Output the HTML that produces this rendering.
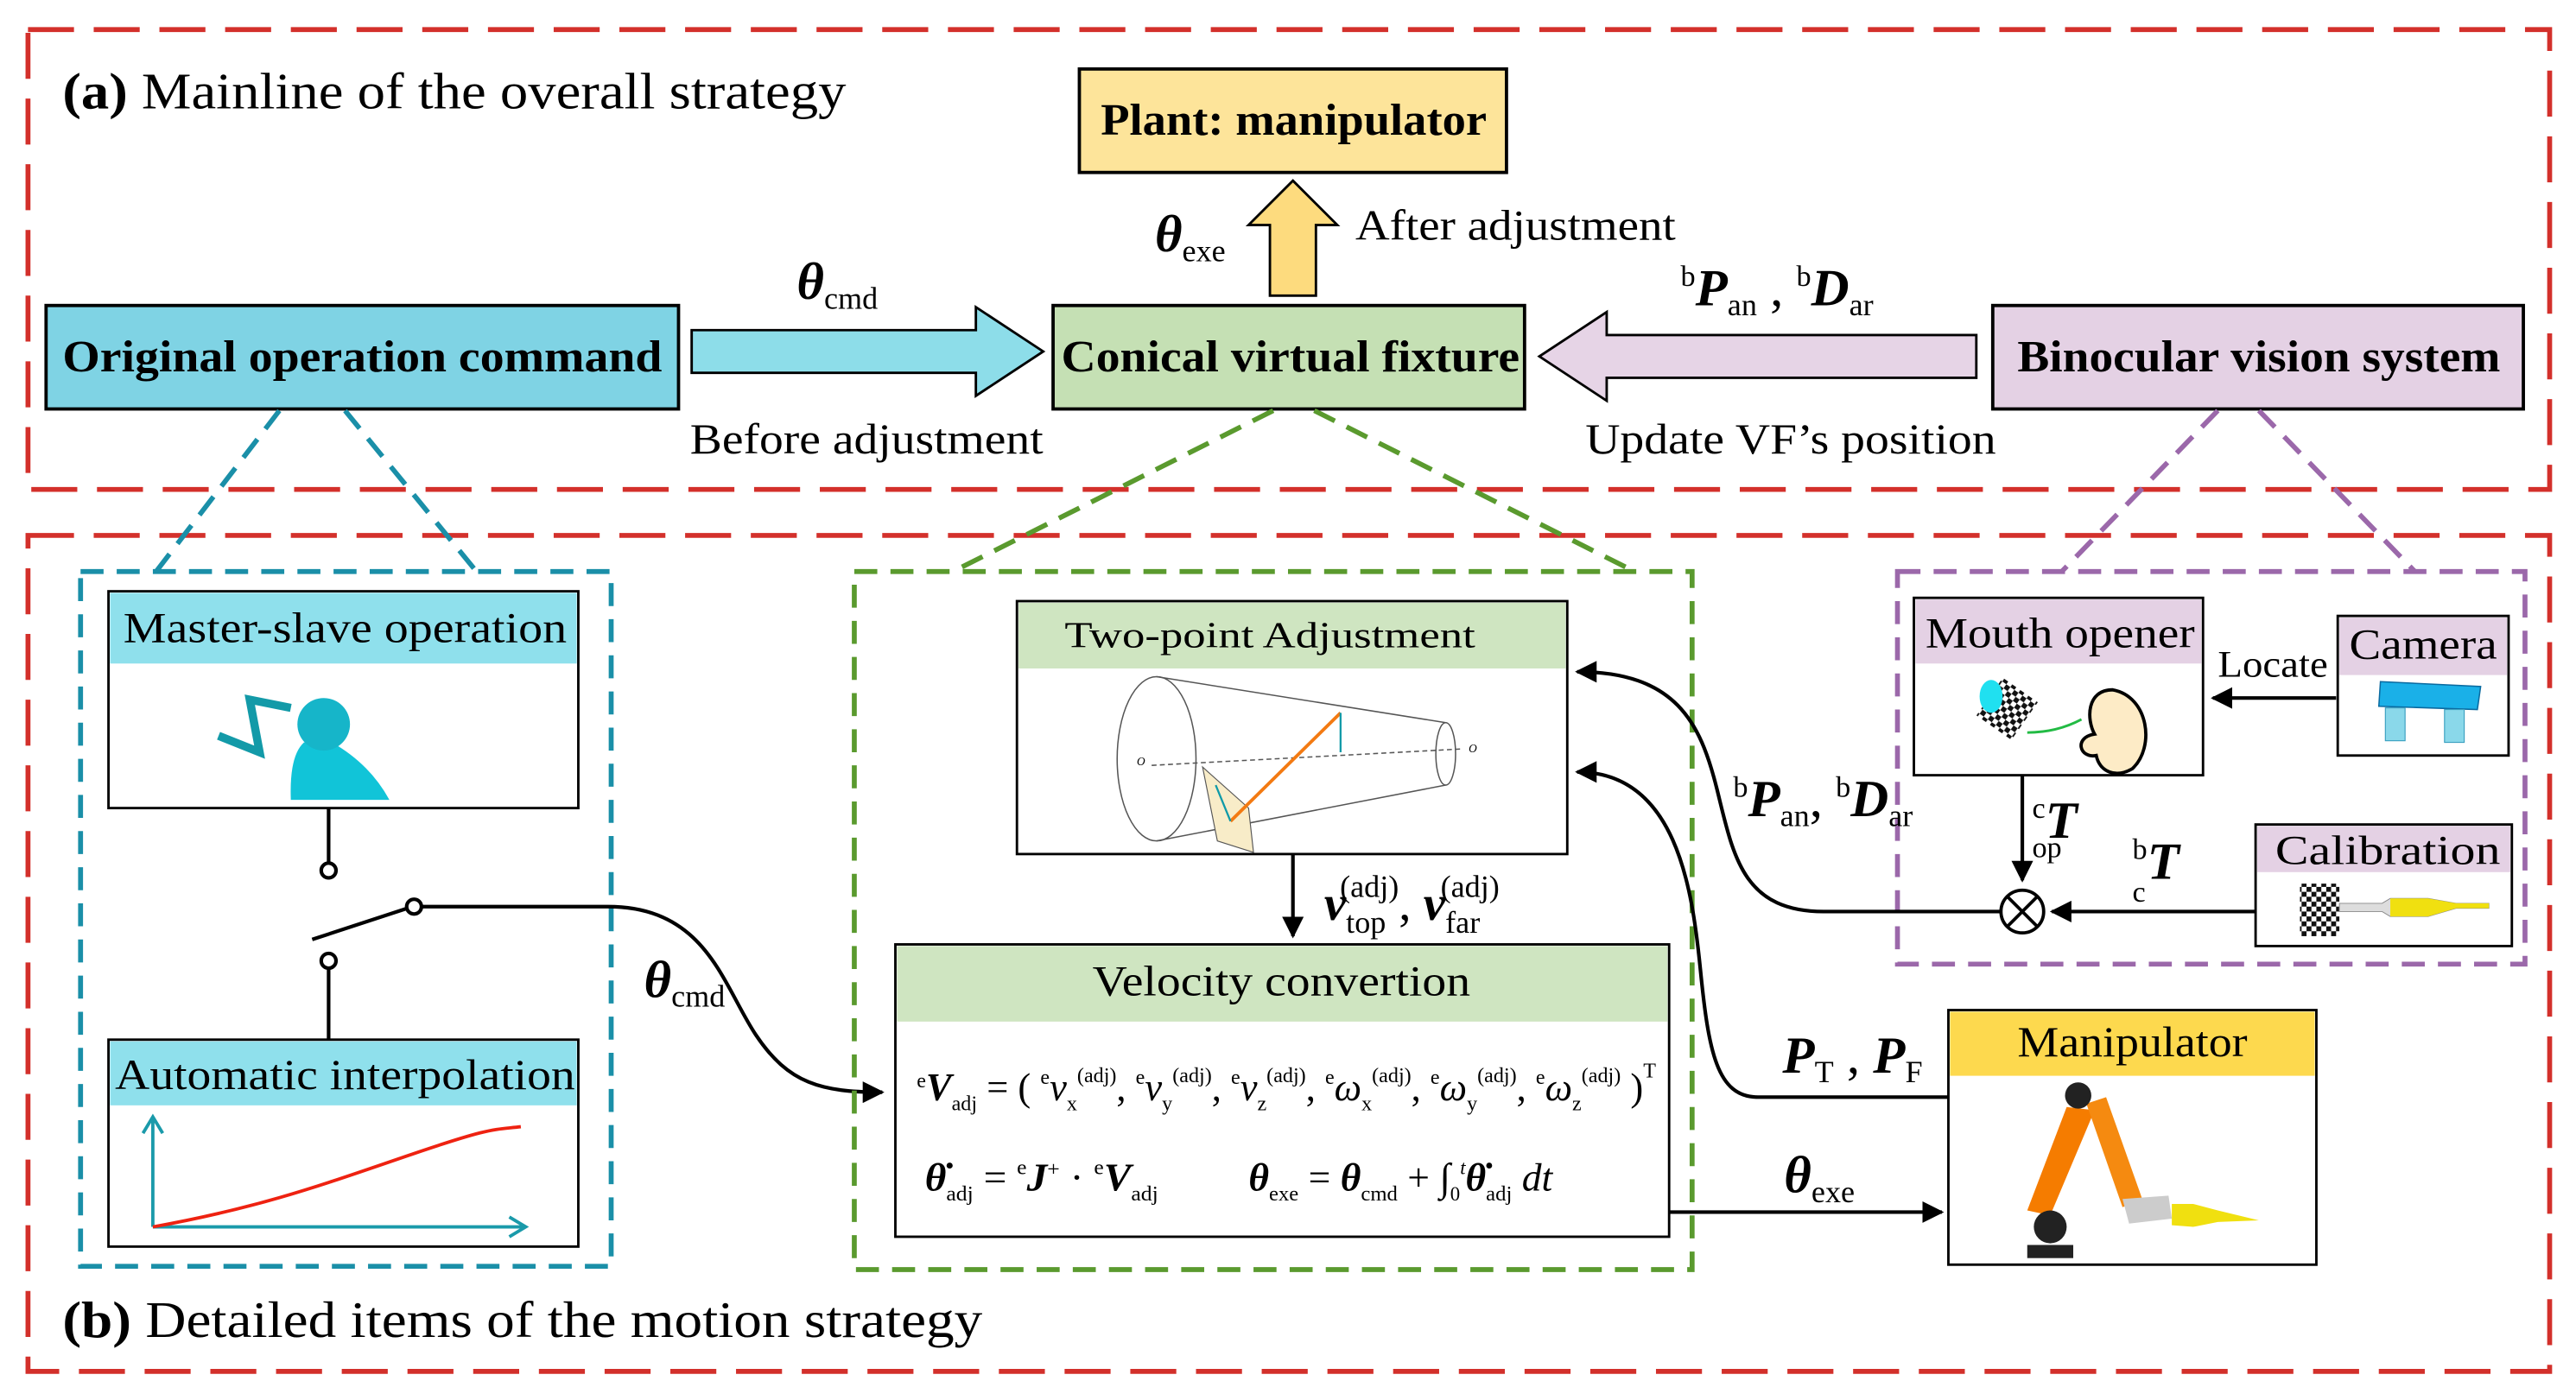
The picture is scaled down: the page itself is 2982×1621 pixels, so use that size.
<!DOCTYPE html>
<html><head><meta charset="utf-8"><style>html,body{margin:0;padding:0;background:#fff}svg{display:block}svg text{font-family:"Liberation Serif","DejaVu Serif","Times New Roman",serif}</style></head>
<body>
<svg width="2982" height="1621" viewBox="0 0 1568 852.4" xmlns="http://www.w3.org/2000/svg" style="font-family:'Liberation Serif','DejaVu Serif',serif">
<defs>
<marker id="ah" viewBox="0 0 10 10" refX="9" refY="5" markerWidth="6" markerHeight="6" orient="auto" markerUnits="strokeWidth"><path d="M0,0L10,5L0,10z" fill="#000"/></marker>
<pattern id="chk" width="6" height="6" patternUnits="userSpaceOnUse"><rect width="6" height="6" fill="#fff"/><rect width="3" height="3" fill="#111"/><rect x="3" y="3" width="3" height="3" fill="#111"/></pattern>
</defs>
<rect width="1568" height="853" fill="#fff"/>
<g fill="none" stroke="#d3302b" stroke-width="3" stroke-dasharray="28,12">
<rect x="17" y="18" width="1535" height="280"/>
<rect x="17" y="326" width="1535" height="509"/>
</g>
<text x="38" y="66" font-size="31" textLength="477" lengthAdjust="spacingAndGlyphs"><tspan font-weight="bold">(a)</tspan> Mainline of the overall strategy</text>
<text x="38" y="814" font-size="31" textLength="560" lengthAdjust="spacingAndGlyphs"><tspan font-weight="bold">(b)</tspan> Detailed items of the motion strategy</text>

<rect x="657" y="42" width="260" height="63" fill="#fde49a" stroke="#000" stroke-width="2"/>
<text x="670" y="82" font-size="27" font-weight="bold" textLength="235" lengthAdjust="spacingAndGlyphs">Plant: manipulator</text>
<path d="M773,180V137H760L787,110L814,137H801V180Z" fill="#fddb7e" stroke="#000" stroke-width="1.5"/>
<rect x="28" y="186" width="385" height="63" fill="#7fd3e4" stroke="#000" stroke-width="2"/>
<text x="38" y="226" font-size="27" font-weight="bold" textLength="365" lengthAdjust="spacingAndGlyphs">Original operation command</text>
<path d="M421,201H594V187L635,214L594,241V227H421Z" fill="#8ddde9" stroke="#000" stroke-width="1.5"/>
<rect x="641" y="186" width="287" height="63" fill="#c5e0b4" stroke="#000" stroke-width="2"/>
<text x="646" y="226" font-size="27" font-weight="bold" textLength="279" lengthAdjust="spacingAndGlyphs">Conical virtual fixture</text>
<path d="M1203,204H978V190L937,217L978,244V230H1203Z" fill="#e6d4e6" stroke="#000" stroke-width="1.5"/>
<rect x="1213" y="186" width="323" height="63" fill="#e4d1e4" stroke="#000" stroke-width="2"/>
<text x="1228" y="226" font-size="27" font-weight="bold" textLength="294" lengthAdjust="spacingAndGlyphs">Binocular vision system</text>

<text x="485" y="182" font-size="32" font-weight="bold" font-style="italic">θ<tspan font-size="19" font-weight="normal" font-style="normal" dy="6">cmd</tspan></text>
<text x="420" y="276" font-size="26" textLength="215" lengthAdjust="spacingAndGlyphs">Before adjustment</text>
<text x="703" y="153" font-size="32" font-weight="bold" font-style="italic">θ<tspan font-size="19" font-weight="normal" font-style="normal" dy="6">exe</tspan></text>
<text x="825" y="146" font-size="26" textLength="195" lengthAdjust="spacingAndGlyphs">After adjustment</text>
<text x="1023" y="186" font-size="32" font-weight="bold" font-style="italic"><tspan font-size="18" font-weight="normal" font-style="normal" dy="-12">b</tspan><tspan dy="12">P</tspan><tspan font-size="19" font-weight="normal" font-style="normal" dy="6">an</tspan><tspan font-weight="normal" font-style="normal" dy="-6"> , </tspan><tspan font-size="18" font-weight="normal" font-style="normal" dy="-12">b</tspan><tspan dy="12">D</tspan><tspan font-size="19" font-weight="normal" font-style="normal" dy="6">ar</tspan></text>
<text x="965" y="276" font-size="26" textLength="250" lengthAdjust="spacingAndGlyphs">Update VF’s position</text>

<g fill="none" stroke="#1a8fa8" stroke-width="3" stroke-dasharray="14,8">
<path d="M170,250L95,348M210,250L290,348"/>
<rect x="49" y="348" width="323" height="423"/>
</g>
<rect x="66" y="360" width="286" height="132" fill="#fff" stroke="#000" stroke-width="1.5"/>
<rect x="67" y="361" width="284" height="43" fill="#8fe0ec"/>
<text x="75" y="391" font-size="26" textLength="270" lengthAdjust="spacingAndGlyphs">Master-slave operation</text>
<path d="M133,448L158,458L152,426L177,431" fill="none" stroke="#139aa8" stroke-width="5"/>
<path d="M177,487Q176,460 185,452L202,452Q225,465 237,487Z" fill="#11c4d8"/>
<circle cx="197" cy="441" r="16" fill="#16b5c9"/>
<rect x="66" y="633" width="286" height="126" fill="#fff" stroke="#000" stroke-width="1.5"/>
<rect x="67" y="634" width="284" height="39" fill="#8fe0ec"/>
<text x="70" y="663" font-size="26" textLength="280" lengthAdjust="spacingAndGlyphs">Automatic interpolation</text>
<path d="M93,747V680M87,690L93,680L99,690M93,747H320M310,741L320,747L310,753" fill="none" stroke="#1a9aaa" stroke-width="2"/>
<path d="M93,747C160,735 200,720 250,703S300,688 317,686" fill="none" stroke="#e21" stroke-width="2"/>
<g stroke="#000" stroke-width="2.2" fill="#fff">
<path d="M200,492V525M200,590V633M190,572L248,553M256,552H370C430,552 440,600 460,630S500,665 537,665" fill="none" marker-end="url(#ah)"/>
<circle cx="200" cy="530" r="4.5"/><circle cx="200" cy="585" r="4.5"/><circle cx="252" cy="552" r="4.5"/>
</g>
<text x="392" y="607" font-size="32" font-weight="bold" font-style="italic">θ<tspan font-size="19" font-weight="normal" font-style="normal" dy="6">cmd</tspan></text>

<g fill="none" stroke="#5a9a2e" stroke-width="3" stroke-dasharray="14,8">
<path d="M775,250L580,348M800,250L995,348"/>
<rect x="520" y="348" width="510" height="425"/>
</g>
<rect x="619" y="366" width="335" height="154" fill="#fff" stroke="#000" stroke-width="1.5"/>
<rect x="620" y="367" width="333" height="40" fill="#cfe5c1"/>
<text x="648" y="394" font-size="22" textLength="250" lengthAdjust="spacingAndGlyphs">Two-point Adjustment</text>
<g fill="none" stroke="#555" stroke-width="0.8">
<ellipse cx="704" cy="462" rx="24" ry="50"/>
<path d="M704,412L880,440M704,512L880,478"/>
<ellipse cx="880" cy="459" rx="6" ry="19"/>
<path d="M701,466L890,456" stroke-dasharray="3,2"/>
</g>
<path d="M732,467L760,492L763,519L741,512Z" fill="#f8ecc8" stroke="#555" stroke-width="0.6"/>
<path d="M749,500L816,434" stroke="#f37a12" stroke-width="2"/>
<path d="M749,500L740,478M816,434V458" stroke="#109aa8" stroke-width="1.2"/>
<text x="692" y="466" font-size="7" font-style="italic">O</text><text x="894" y="458" font-size="7" font-style="italic">O</text>

<path d="M787,520V570" stroke="#000" stroke-width="2.2" marker-end="url(#ah)"/>
<text x="806" y="560" font-size="30" font-weight="bold" font-style="italic">v<tspan font-size="19" font-weight="normal" font-style="normal" dy="8">top</tspan><tspan font-size="19" font-weight="normal" font-style="normal" dx="-28" dy="-22">(adj)</tspan><tspan font-style="normal" font-weight="normal" dy="14">, </tspan><tspan dy="0">v</tspan><tspan font-size="19" font-weight="normal" font-style="normal" dy="8">far</tspan><tspan font-size="19" font-weight="normal" font-style="normal" dx="-24" dy="-22">(adj)</tspan></text>

<rect x="545" y="575" width="471" height="178" fill="#fff" stroke="#000" stroke-width="1.5"/>
<rect x="546" y="576" width="469" height="46" fill="#cfe5c1"/>
<text x="665" y="606" font-size="26" textLength="230" lengthAdjust="spacingAndGlyphs">Velocity convertion</text>
<text x="558" y="670" font-size="24" font-style="italic" textLength="450" lengthAdjust="spacingAndGlyphs"><tspan font-size="13" font-style="normal" dy="-8">e</tspan><tspan font-weight="bold" dy="8">V</tspan><tspan font-size="13" font-style="normal" dy="6">adj</tspan><tspan font-style="normal" dy="-6"> = ( </tspan><tspan font-size="13" font-style="normal" dy="-10">e</tspan><tspan dy="10">v</tspan><tspan font-size="13" font-style="normal" dy="6">x</tspan><tspan font-size="13" font-style="normal" dy="-17">(adj)</tspan><tspan font-style="normal" dy="11">, </tspan><tspan font-size="13" font-style="normal" dy="-10">e</tspan><tspan dy="10">v</tspan><tspan font-size="13" font-style="normal" dy="6">y</tspan><tspan font-size="13" font-style="normal" dy="-17">(adj)</tspan><tspan font-style="normal" dy="11">, </tspan><tspan font-size="13" font-style="normal" dy="-10">e</tspan><tspan dy="10">v</tspan><tspan font-size="13" font-style="normal" dy="6">z</tspan><tspan font-size="13" font-style="normal" dy="-17">(adj)</tspan><tspan font-style="normal" dy="11">, </tspan><tspan font-size="13" font-style="normal" dy="-10">e</tspan><tspan dy="10">ω</tspan><tspan font-size="13" font-style="normal" dy="6">x</tspan><tspan font-size="13" font-style="normal" dy="-17">(adj)</tspan><tspan font-style="normal" dy="11">, </tspan><tspan font-size="13" font-style="normal" dy="-10">e</tspan><tspan dy="10">ω</tspan><tspan font-size="13" font-style="normal" dy="6">y</tspan><tspan font-size="13" font-style="normal" dy="-17">(adj)</tspan><tspan font-style="normal" dy="11">, </tspan><tspan font-size="13" font-style="normal" dy="-10">e</tspan><tspan dy="10">ω</tspan><tspan font-size="13" font-style="normal" dy="6">z</tspan><tspan font-size="13" font-style="normal" dy="-17">(adj)</tspan><tspan font-style="normal" dy="11"> )</tspan><tspan font-size="13" font-style="normal" dy="-14">T</tspan></text>
<text x="563" y="725" font-size="24" font-style="italic" textLength="142" lengthAdjust="spacingAndGlyphs"><tspan font-weight="bold">θ̇</tspan><tspan font-size="13" font-style="normal" dy="6">adj</tspan><tspan font-style="normal" dy="-6"> = </tspan><tspan font-size="13" font-style="normal" dy="-10">e</tspan><tspan font-weight="bold" dy="10">J</tspan><tspan font-size="13" font-style="normal" dy="-9">+</tspan><tspan font-style="normal" dy="9"> · </tspan><tspan font-size="13" font-style="normal" dy="-10">e</tspan><tspan font-weight="bold" dy="10">V</tspan><tspan font-size="13" font-style="normal" dy="6">adj</tspan></text>
<text x="760" y="725" font-size="24" font-style="italic" textLength="185" lengthAdjust="spacingAndGlyphs"><tspan font-weight="bold">θ</tspan><tspan font-size="13" font-style="normal" dy="6">exe</tspan><tspan font-style="normal" dy="-6"> = </tspan><tspan font-weight="bold">θ</tspan><tspan font-size="13" font-style="normal" dy="6">cmd</tspan><tspan font-style="normal" dy="-6"> + ∫</tspan><tspan font-size="12" font-style="normal" dy="6">0</tspan><tspan font-size="12" dy="-16">t</tspan><tspan font-weight="bold" dy="10">θ̇</tspan><tspan font-size="13" font-style="normal" dy="6">adj</tspan><tspan dy="-6"> dt</tspan></text>

<g fill="none" stroke="#9b68aa" stroke-width="3" stroke-dasharray="14,8">
<path d="M1350,250L1255,348M1375,250L1470,348"/>
<rect x="1155" y="348" width="382" height="239"/>
</g>
<rect x="1165" y="364" width="176" height="108" fill="#fff" stroke="#000" stroke-width="1.5"/>
<rect x="1166" y="365" width="174" height="39" fill="#e4d1e4"/>
<text x="1172" y="394" font-size="26" textLength="164" lengthAdjust="spacingAndGlyphs">Mouth opener</text>
<path d="M1286,420C1308,424 1312,455 1298,468C1288,474 1278,470 1276,460C1266,462 1262,449 1275,447C1270,438 1270,420 1286,420Z" fill="#fdebc6" stroke="#000" stroke-width="2"/>
<g transform="rotate(35 1222 433)"><rect x="1208" y="418" width="26" height="28" fill="url(#chk)"/></g>
<ellipse cx="1212" cy="424" rx="7" ry="10" fill="#20e0f0"/>
<path d="M1234,446Q1252,446 1267,438" fill="none" stroke="#22bb44" stroke-width="1.5"/>
<rect x="1423" y="375" width="104" height="85" fill="#fff" stroke="#000" stroke-width="1.5"/>
<rect x="1424" y="376" width="102" height="35" fill="#e4d1e4"/>
<text x="1430" y="401" font-size="26" textLength="90" lengthAdjust="spacingAndGlyphs">Camera</text>
<path d="M1449,415L1510,418L1508,432L1448,430Z" fill="#1ab0e8" stroke="#0a6aa0" stroke-width="0.8"/>
<rect x="1452" y="431" width="12" height="20" fill="#8ad8ea" stroke="#3aa0c0" stroke-width="0.6"/>
<rect x="1488" y="432" width="12" height="20" fill="#8ad8ea" stroke="#3aa0c0" stroke-width="0.6"/>
<path d="M1422,425H1347" stroke="#000" stroke-width="2.2" marker-end="url(#ah)"/>
<text x="1350" y="412" font-size="23" textLength="67" lengthAdjust="spacingAndGlyphs">Locate</text>
<rect x="1373" y="502" width="156" height="74" fill="#fff" stroke="#000" stroke-width="1.5"/>
<rect x="1374" y="503" width="154" height="28" fill="#e4d1e4"/>
<text x="1385" y="526" font-size="25" textLength="137" lengthAdjust="spacingAndGlyphs">Calibration</text>
<rect x="1400" y="538" width="24" height="32" fill="url(#chk)"/>
<path d="M1424,550H1450L1455,547L1478,547L1495,550H1515V553H1495L1478,558L1455,558L1450,555H1424Z" fill="#ddd" stroke="#888" stroke-width="0.5"/>
<path d="M1455,547L1478,547L1495,550H1515V553H1495L1478,558L1455,558Z" fill="#f0e010"/>
<path d="M1231,472V536" stroke="#000" stroke-width="2.2" marker-end="url(#ah)"/>
<text x="1237" y="510" font-size="32" font-weight="bold" font-style="italic"><tspan font-size="18" font-weight="normal" font-style="normal" dy="-12">c</tspan><tspan dy="12">T</tspan></text>
<text x="1237" y="522" font-size="18">op</text>
<text x="1298" y="535" font-size="32" font-weight="bold" font-style="italic"><tspan font-size="18" font-weight="normal" font-style="normal" dy="-12">b</tspan><tspan dy="12">T</tspan></text>
<text x="1298" y="549" font-size="18">c</text>
<path d="M1373,555H1249" stroke="#000" stroke-width="2.2" marker-end="url(#ah)"/>
<circle cx="1231" cy="555" r="13" fill="#fff" stroke="#000" stroke-width="2"/>
<path d="M1222,546L1240,564M1240,546L1222,564" stroke="#000" stroke-width="2"/>

<path d="M1218,555H1110C1060,555 1055,520 1045,480S1020,409 960,409" fill="none" stroke="#000" stroke-width="2.2" marker-end="url(#ah)"/>
<path d="M1186,668H1070C1045,668 1040,640 1035,590S1020,470 960,470" fill="none" stroke="#000" stroke-width="2.2" marker-end="url(#ah)"/>
<text x="1055" y="497" font-size="32" font-weight="bold" font-style="italic"><tspan font-size="18" font-weight="normal" font-style="normal" dy="-12">b</tspan><tspan dy="12">P</tspan><tspan font-size="19" font-weight="normal" font-style="normal" dy="6">an</tspan><tspan font-weight="normal" font-style="normal" dy="-6">, </tspan><tspan font-size="18" font-weight="normal" font-style="normal" dy="-12">b</tspan><tspan dy="12">D</tspan><tspan font-size="19" font-weight="normal" font-style="normal" dy="6">ar</tspan></text>
<text x="1085" y="653" font-size="32" font-weight="bold" font-style="italic">P<tspan font-size="19" font-weight="normal" font-style="normal" dy="6">T</tspan><tspan font-weight="normal" font-style="normal" dy="-6"> , </tspan>P<tspan font-size="19" font-weight="normal" font-style="normal" dy="6">F</tspan></text>
<path d="M1016,738H1182" stroke="#000" stroke-width="2.2" marker-end="url(#ah)"/>
<text x="1086" y="726" font-size="32" font-weight="bold" font-style="italic">θ<tspan font-size="19" font-weight="normal" font-style="normal" dy="6">exe</tspan></text>

<rect x="1186" y="615" width="224" height="155" fill="#fff" stroke="#000" stroke-width="1.5"/>
<rect x="1187" y="616" width="222" height="39" fill="#fdd94e"/>
<text x="1228" y="643" font-size="26" textLength="140" lengthAdjust="spacingAndGlyphs">Manipulator</text>
<path d="M1258,674L1275,676L1248,740L1234,737Z" fill="#f57c00"/>
<path d="M1270,672L1282,668L1304,730L1292,735Z" fill="#f58a10"/>
<circle cx="1265" cy="667" r="8" fill="#222"/>
<circle cx="1248" cy="747" r="10" fill="#222"/>
<rect x="1234" y="758" width="28" height="8" fill="#222"/>
<path d="M1292,730L1320,728L1322,742L1296,745Z" fill="#ccc"/>
<path d="M1322,733L1335,733L1350,737L1375,743L1350,744L1335,747L1322,746Z" fill="#f0e010"/>
</svg>
</body></html>
